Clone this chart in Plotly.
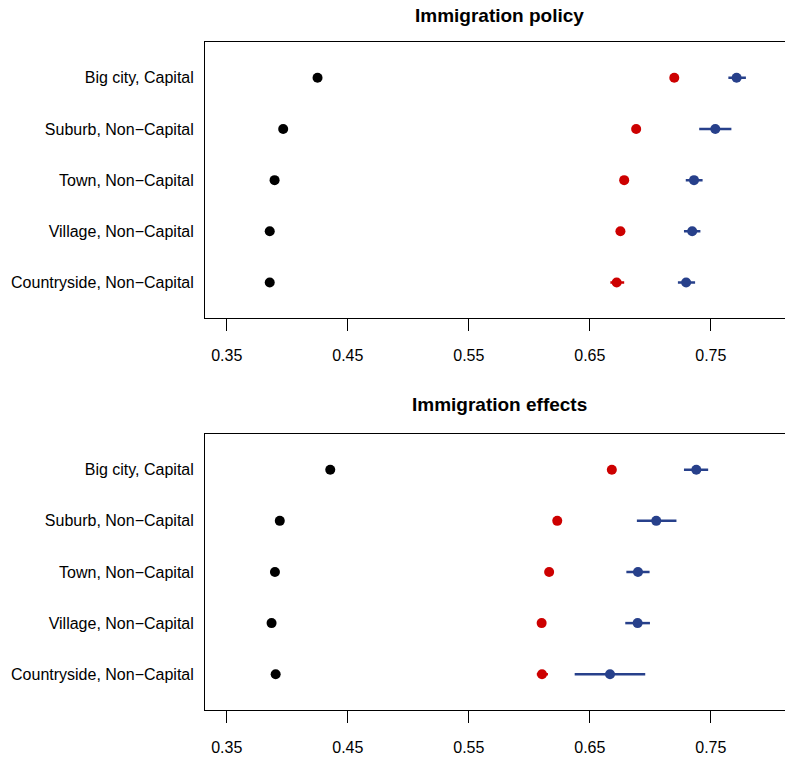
import plotly.graph_objects as go

# Rows, bottom to top
categories = ["Countryside, Non\u2212Capital", "Village, Non\u2212Capital", "Town, Non\u2212Capital",
              "Suburb, Non\u2212Capital", "Big city, Capital"]
row_pos = [1, 2, 3, 4, 5]
tick_vals = [0.35, 0.45, 0.55, 0.65, 0.75]
tick_text = ["0.35", "0.45", "0.55", "0.65", "0.75"]
panel_titles = ["Immigration policy", "Immigration effects"]

# Immigration policy
policy_black = [0.3855, 0.3855, 0.3895, 0.3966, 0.4250]
policy_red = [0.6722, 0.6753, 0.6784, 0.6883, 0.7198]
policy_red_lo = [0.6670, 0.6753, 0.6784, 0.6883, 0.7198]
policy_red_hi = [0.6784, 0.6753, 0.6784, 0.6883, 0.7198]
policy_blue = [0.7296, 0.7346, 0.7361, 0.7537, 0.7713]
policy_blue_lo = [0.7228, 0.7278, 0.7293, 0.7404, 0.7645]
policy_blue_hi = [0.7370, 0.7414, 0.7432, 0.7670, 0.7790]

# Immigration effects
effects_black = [0.3904, 0.3870, 0.3898, 0.3938, 0.4355]
effects_red = [0.6105, 0.6102, 0.6164, 0.6231, 0.6682]
effects_red_lo = [0.6062, 0.6102, 0.6164, 0.6231, 0.6682]
effects_red_hi = [0.6154, 0.6102, 0.6164, 0.6231, 0.6682]
effects_blue = [0.6667, 0.6895, 0.6898, 0.7049, 0.7380]
effects_blue_lo = [0.6375, 0.6793, 0.6802, 0.6889, 0.7278]
effects_blue_hi = [0.6958, 0.6997, 0.6994, 0.7216, 0.7478]

BLACK = "#000000"
RED = "#CD0000"
BLUE = "#27408B"
FONT = "Liberation Sans, Arial, sans-serif"

fig = go.Figure()


def add_series(vals, lo, hi, color, xa, ya):
    kw = {}
    if lo is not None:
        kw["error_x"] = dict(type="data", symmetric=False,
                             array=[h - v for h, v in zip(hi, vals)],
                             arrayminus=[v - l for v, l in zip(vals, lo)],
                             color=color, thickness=2.5, width=0)
    fig.add_trace(go.Scatter(x=vals, y=row_pos, mode="markers",
                             marker=dict(color=color, size=10, line=dict(width=0)),
                             xaxis=xa, yaxis=ya, showlegend=False, hoverinfo="skip", **kw))


add_series(policy_black, None, None, BLACK, "x", "y")
add_series(policy_red, policy_red_lo, policy_red_hi, RED, "x", "y")
add_series(policy_blue, policy_blue_lo, policy_blue_hi, BLUE, "x", "y")
add_series(effects_black, None, None, BLACK, "x2", "y2")
add_series(effects_red, effects_red_lo, effects_red_hi, RED, "x2", "y2")
add_series(effects_blue, effects_blue_lo, effects_blue_hi, BLUE, "x2", "y2")

xcommon = dict(range=[0.332, 0.8113], tickmode="array", tickvals=tick_vals, ticktext=tick_text,
               showline=True, mirror=True, linecolor="black", linewidth=1,
               ticks="outside", ticklen=12, tickcolor="black", tickwidth=1,
               showgrid=False, zeroline=False, automargin=False,
               tickfont=dict(family=FONT, size=16, color="black"), ticklabelstandoff=11)
ycommon = dict(range=[0.3, 5.7], tickmode="array", tickvals=row_pos, ticktext=categories,
               showline=True, mirror=False, linecolor="black", linewidth=1,
               ticks="", showgrid=False, zeroline=False, automargin=False,
               tickfont=dict(family=FONT, size=16, color="black"), ticklabelstandoff=7)

fig.update_layout(
    width=785, height=759,
    margin=dict(l=205, r=0, t=42, b=49, pad=0),
    paper_bgcolor="white", plot_bgcolor="white",
    hovermode=False,
    xaxis=dict(domain=[0, 1], anchor="y", **xcommon),
    yaxis=dict(domain=[0.5864, 1.0], anchor="x", **ycommon),
    xaxis2=dict(domain=[0, 1], anchor="y2", **xcommon),
    yaxis2=dict(domain=[0, 0.4132], anchor="x2", **ycommon),
    annotations=[
        dict(text="<b>%s</b>" % panel_titles[0], xref="paper", yref="paper", x=0.5069, y=1.0404,
             xanchor="center", yanchor="middle", showarrow=False,
             font=dict(family=FONT, size=19, color="black")),
        dict(text="<b>%s</b>" % panel_titles[1], xref="paper", yref="paper", x=0.5069, y=0.4566,
             xanchor="center", yanchor="middle", showarrow=False,
             font=dict(family=FONT, size=19, color="black")),
    ],
)

fig.write_html("out.html", config={"displayModeBar": False, "staticPlot": True},
               post_script="document.body.style.margin='0px';document.body.style.overflow='hidden';")
